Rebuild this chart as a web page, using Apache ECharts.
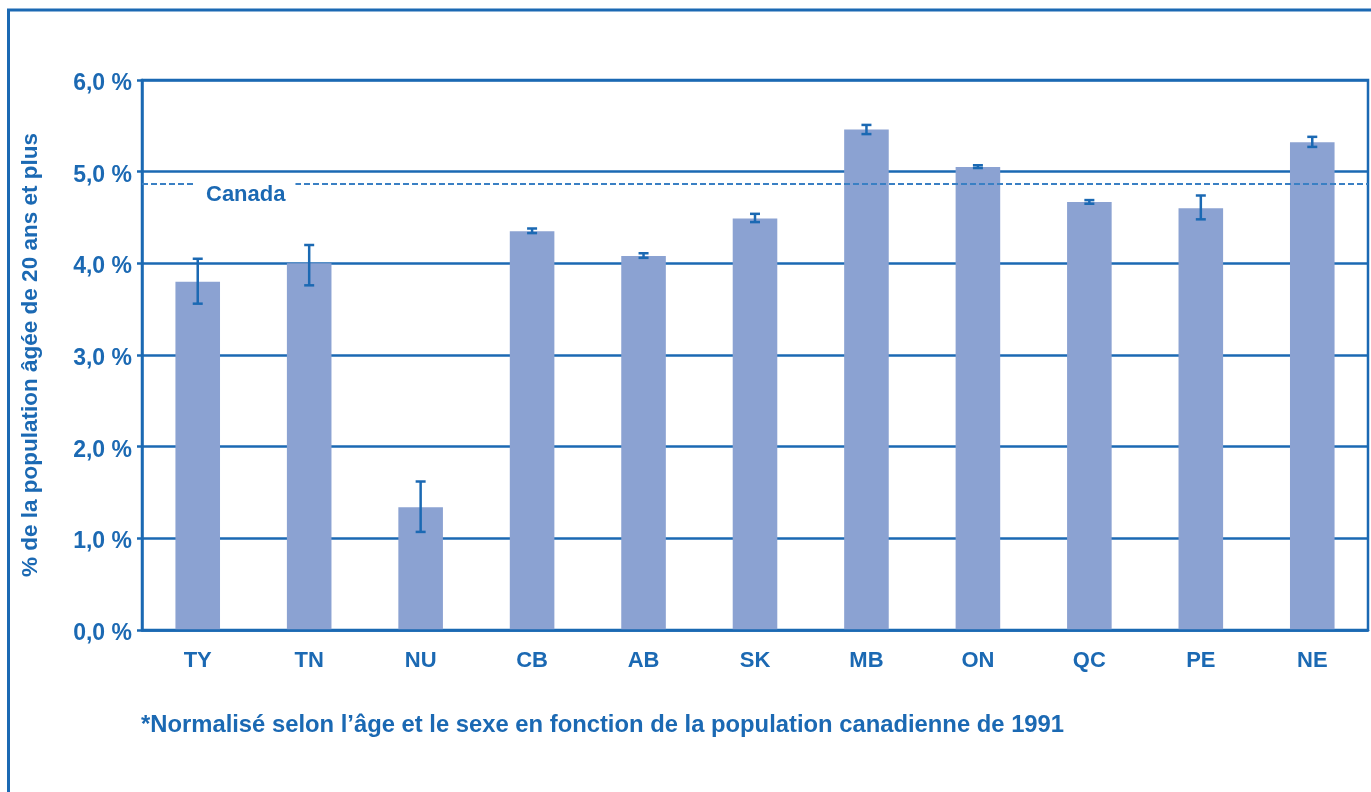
<!DOCTYPE html>
<html>
<head>
<meta charset="utf-8">
<script src="https://cdn.jsdelivr.net/npm/echarts@6/dist/echarts.min.js"></script>
<style>
html,body{margin:0;padding:0;background:#fff;}
#chart{width:1371px;height:792px;}
</style>
</head>
<body>
<div id="chart"></div>
<script>
const categories = ['TY','TN','NU','CB','AB','SK','MB','ON','QC','PE','NE'];
const values = [3.80, 4.00, 1.34, 4.35, 4.08, 4.49, 5.46, 5.05, 4.67, 4.60, 5.32];
const lowerCI = [3.56, 3.76, 1.07, 4.33, 4.06, 4.45, 5.41, 5.04, 4.65, 4.48, 5.27];
const upperCI = [4.05, 4.20, 1.62, 4.38, 4.11, 4.54, 5.51, 5.07, 4.69, 4.74, 5.38];
const canadaValue = 4.87;
const canadaLabel = 'Canada';
const yTitle = '% de la population âgée de 20 ans et plus';
const footnote = '*Normalisé selon l\u2019âge et le sexe en fonction de la population canadienne de 1991';

const BLUE = '#1b69b3';
const BAR = '#8ba2d2';
const FONT = '"Liberation Sans", Arial, sans-serif';

const chart = echarts.init(document.getElementById('chart'), null, {renderer: 'canvas'});
const errData = categories.map((c, i) => [i, lowerCI[i], upperCI[i]]);

chart.setOption({
  animation: false,
  backgroundColor: '#fff',
  textStyle: {fontFamily: FONT},
  title: {
    text: footnote,
    left: 136,
    top: 708,
    textStyle: {color: BLUE, fontSize: 23.8, fontWeight: 'bold', fontFamily: FONT}
  },
  graphic: [{
    type: 'rect',
    shape: {x: 8.5, y: 10, width: 1500, height: 1000},
    style: {fill: 'none', stroke: BLUE, lineWidth: 3},
    silent: true
  }],
  grid: {
    left: 142, right: 3, top: 80, bottom: 162,
    show: true, borderColor: BLUE, borderWidth: 2.5, backgroundColor: 'transparent'
  },
  xAxis: {
    type: 'category',
    data: categories,
    z: 5,
    axisLine: {show: true, lineStyle: {color: BLUE, width: 2.5}},
    axisTick: {show: false},
    axisLabel: {color: BLUE, fontSize: 22, fontWeight: 'bold', fontFamily: FONT, margin: 20}
  },
  yAxis: {
    type: 'value',
    min: 0, max: 6, interval: 1,
    name: yTitle,
    nameLocation: 'middle',
    nameGap: 100,
    nameTextStyle: {color: BLUE, fontSize: 22.5, fontWeight: 'bold', fontFamily: FONT},
    axisLine: {show: true, lineStyle: {color: BLUE, width: 2.5}},
    axisTick: {show: true, length: 5, lineStyle: {color: BLUE, width: 2.5}},
    axisLabel: {
      color: BLUE, fontSize: 23, fontWeight: 'bold', fontFamily: FONT, margin: 10,
      verticalAlign: 'top', lineHeight: 7,
      formatter: v => v.toFixed(1).replace('.', ',') + ' %'
    },
    splitLine: {show: true, lineStyle: {color: BLUE, width: 2.5}}
  },
  series: [
    {
      type: 'bar',
      data: values,
      barWidth: '40%',
      itemStyle: {color: BAR},
      z: 2,
      markLine: {
        silent: true,
        symbol: ['none', 'none'],
        z: 6,
        lineStyle: {color: '#3a80c4', width: 2, type: [6, 3]},
        label: {
          show: true,
          position: 'insideStartBottom',
          formatter: canadaLabel,
          distance: [51, -3],
          backgroundColor: '#fff',
          padding: [3, 10, 4, 13],
          color: BLUE, fontSize: 22, fontWeight: 'bold', fontFamily: FONT
        },
        data: [{yAxis: canadaValue}]
      }
    },
    {
      type: 'custom',
      data: errData,
      z: 10,
      renderItem: function (params, api) {
        const x = api.value(0);
        const lo = api.coord([x, api.value(1)]);
        const hi = api.coord([x, api.value(2)]);
        const hw = 5;
        const style = {stroke: BLUE, lineWidth: 2.5, fill: 'none'};
        return {
          type: 'group',
          children: [
            {type: 'line', shape: {x1: lo[0], y1: lo[1], x2: hi[0], y2: hi[1]}, style: style},
            {type: 'line', shape: {x1: hi[0] - hw, y1: hi[1], x2: hi[0] + hw, y2: hi[1]}, style: style},
            {type: 'line', shape: {x1: lo[0] - hw, y1: lo[1], x2: lo[0] + hw, y2: lo[1]}, style: style}
          ]
        };
      }
    }
  ]
});
</script>
</body>
</html>
